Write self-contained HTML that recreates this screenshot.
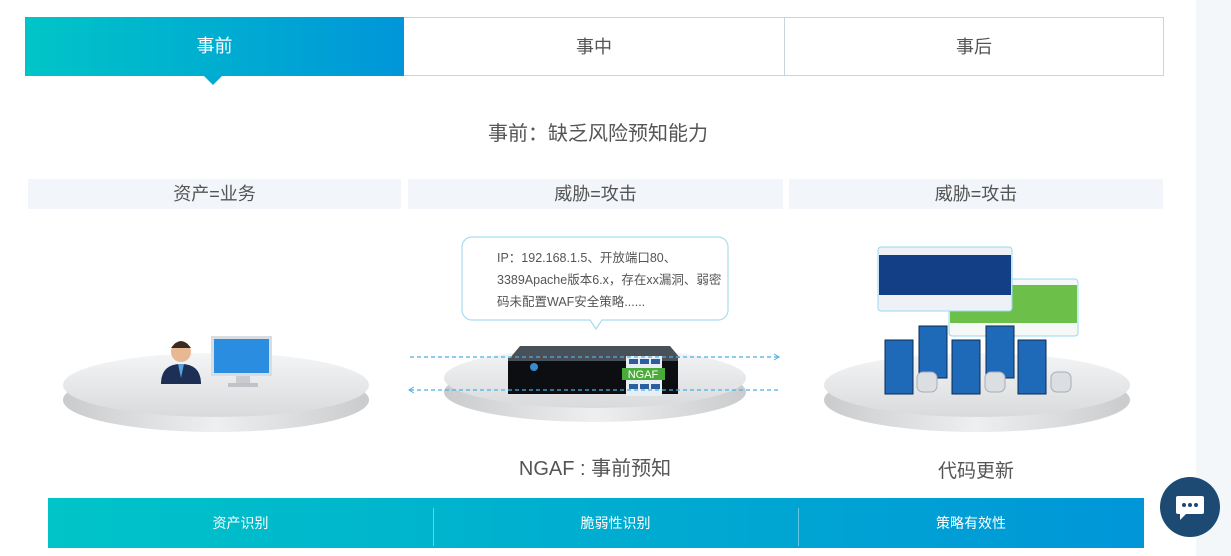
<!DOCTYPE html>
<html><head><meta charset="utf-8"><style>
body{margin:0;width:1231px;height:556px;overflow:hidden;background:#fff;font-family:"Liberation Sans","Noto Sans CJK SC",sans-serif;position:relative}
.a{position:absolute}
.tab{position:absolute;top:17px;height:59px;line-height:59px;text-align:center;font-size:18px;color:#555;border:1px solid #c9d5dc;box-sizing:border-box}
.hd{position:absolute;top:179px;height:30px;line-height:30px;background:#f2f6fa;text-align:center;font-size:18px;color:#555}
.bt{position:absolute;top:498px;height:50px;line-height:50px;color:#fff;font-size:14px;text-align:center}
</style></head><body>
<div class="a" style="left:1196px;top:0;width:35px;height:556px;background:#f4f7fa"></div>
<div class="tab" style="left:25px;width:379px;background:linear-gradient(90deg,#00c5c7,#0096d9);color:#fff;border:none">事前</div>
<div class="a" style="left:204px;top:76px;width:0;height:0;border-left:9px solid transparent;border-right:9px solid transparent;border-top:9px solid #00aad0"></div>
<div class="tab" style="left:404px;width:381px;border-left:none">事中</div>
<div class="tab" style="left:784px;width:380px">事后</div>
<div class="a" style="left:0;width:1196px;top:117px;text-align:center;font-size:20px;color:#555">事前：缺乏风险预知能力</div>
<div class="hd" style="left:28px;width:373px">资产=业务</div>
<div class="hd" style="left:408px;width:375px">威胁=攻击</div>
<div class="hd" style="left:789px;width:374px">威胁=攻击</div>
<svg class="a" style="left:0;top:0" width="1196" height="500">
<defs><linearGradient id="e" x1="0" x2="0" y1="0" y2="1"><stop offset="0" stop-color="#f4f5f6"/><stop offset="1" stop-color="#d8dadc"/></linearGradient>
<linearGradient id="s" x1="0" x2="1"><stop offset="0" stop-color="#c9cbcd"/><stop offset=".5" stop-color="#eeeff0"/><stop offset="1" stop-color="#c9cbcd"/></linearGradient></defs>
<g><ellipse cx="216" cy="400" rx="153" ry="32" fill="url(#s)"/><ellipse cx="216" cy="385" rx="153" ry="32" fill="url(#e)"/></g>
<g><ellipse cx="595" cy="392" rx="151" ry="30" fill="url(#s)"/><ellipse cx="595" cy="378" rx="151" ry="30" fill="url(#e)"/></g>
<g><ellipse cx="977" cy="400" rx="153" ry="32" fill="url(#s)"/><ellipse cx="977" cy="385" rx="153" ry="32" fill="url(#e)"/></g>
<!-- person -->
<circle cx="181" cy="352" r="10" fill="#e8b894"/><path d="M171 348q10-14 20 0z" fill="#3a2a20"/>
<path d="M161 384q0-20 20-20q20 0 20 20z" fill="#1e2f55"/><path d="M178 364l3 14 3-14z" fill="#5aa0e0"/>
<!-- monitor -->
<rect x="211" y="336" width="61" height="40" fill="#d8dde2"/><rect x="214" y="339" width="55" height="34" fill="#2a8de0"/>
<rect x="236" y="376" width="14" height="8" fill="#c8ccd0"/><rect x="228" y="383" width="30" height="4" fill="#bfc3c7"/>
<!-- bubble -->
<path d="M472 237h246a10 10 0 0 1 10 10v63a10 10 0 0 1-10 10h-116l-6 9-6-9h-118a10 10 0 0 1-10-10v-63a10 10 0 0 1 10-10z" fill="#fff" stroke="#a8dcf0" stroke-width="1.2"/>
<!-- device -->
<path d="M520 346h150l10 12h-170z" fill="#4a5058"/>
<rect x="508" y="358" width="170" height="36" fill="#0c0e12"/><rect x="508" y="358" width="170" height="3" fill="#4a5058"/>
<circle cx="534" cy="367" r="4" fill="#3a8ad0"/>
<rect x="626" y="356" width="36" height="40" fill="#e8eef4"/>
<g fill="#2c5fa0"><rect x="629" y="359" width="9" height="5"/><rect x="640" y="359" width="9" height="5"/><rect x="651" y="359" width="9" height="5"/><rect x="629" y="384" width="9" height="5"/><rect x="640" y="384" width="9" height="5"/><rect x="651" y="384" width="9" height="5"/></g>
<rect x="622" y="368" width="43" height="12" fill="#4aaa3a"/>
<text x="643" y="378" font-size="11" fill="#fff" text-anchor="middle" font-family="Liberation Sans">NGAF</text>
<line x1="410" y1="357" x2="778" y2="357" stroke="#4aaee8" stroke-width="1.3" stroke-dasharray="4 3"/>
<path d="M774 354l5 3-5 3" fill="none" stroke="#4aaee8"/>
<line x1="410" y1="390" x2="778" y2="390" stroke="#4aaee8" stroke-width="1.3" stroke-dasharray="4 3"/>
<path d="M414 387l-5 3 5 3" fill="none" stroke="#4aaee8"/>
<!-- screens -->
<rect x="949" y="279" width="129" height="57" rx="3" fill="#f4f8f6" stroke="#9ad8f0"/><rect x="950" y="285" width="127" height="38" fill="#6cc04a"/>
<rect x="878" y="247" width="134" height="64" rx="3" fill="#eef2f6" stroke="#9ad8f0"/><rect x="879" y="255" width="132" height="40" fill="#123f86"/>
<!-- servers -->
<g fill="#1e6ab8" stroke="#0c2a50">
<rect x="919" y="326" width="28" height="52"/><rect x="986" y="326" width="28" height="52"/>
<rect x="885" y="340" width="28" height="54"/><rect x="952" y="340" width="28" height="54"/><rect x="1018" y="340" width="28" height="54"/></g>
<g fill="#dcdfe2" stroke="#aab"><rect x="917" y="372" width="20" height="20" rx="6"/><rect x="985" y="372" width="20" height="20" rx="6"/><rect x="1051" y="372" width="20" height="20" rx="6"/></g>
</svg>
<div class="a" style="left:497px;top:247px;font-size:12.5px;color:#555;line-height:22px;width:230px">IP：192.168.1.5、开放端口80、<br>3389Apache版本6.x，存在xx漏洞、弱密<br>码未配置WAF安全策略......</div>
<div class="a" style="left:445px;width:300px;top:452px;text-align:center;font-size:20px;color:#555">NGAF : 事前预知</div>
<div class="a" style="left:826px;width:300px;top:456px;text-align:center;font-size:19px;color:#555">代码更新</div>
<div class="a" style="left:48px;top:498px;width:1096px;height:50px;background:linear-gradient(90deg,#00c4c8,#0096d8)"></div>
<div class="a" style="left:433px;top:508px;width:1px;height:38px;background:rgba(255,255,255,.4)"></div>
<div class="a" style="left:798px;top:508px;width:1px;height:38px;background:rgba(255,255,255,.4)"></div>
<div class="bt" style="left:48px;width:385px">资产识别</div>
<div class="bt" style="left:433px;width:365px">脆弱性识别</div>
<div class="bt" style="left:798px;width:346px">策略有效性</div>
<div class="a" style="left:1160px;top:477px;width:60px;height:60px;border-radius:50%;background:#1c4a72"></div>
<svg class="a" style="left:1174px;top:492px" width="32" height="32"><path d="M4 4h24a2 2 0 0 1 2 2v14a2 2 0 0 1-2 2h-16l-6 6v-6h-2a2 2 0 0 1-2-2v-14a2 2 0 0 1 2-2z" fill="#fff"/><circle cx="10" cy="13" r="2" fill="#1c4a72"/><circle cx="16" cy="13" r="2" fill="#1c4a72"/><circle cx="22" cy="13" r="2" fill="#1c4a72"/></svg>
</body></html>
